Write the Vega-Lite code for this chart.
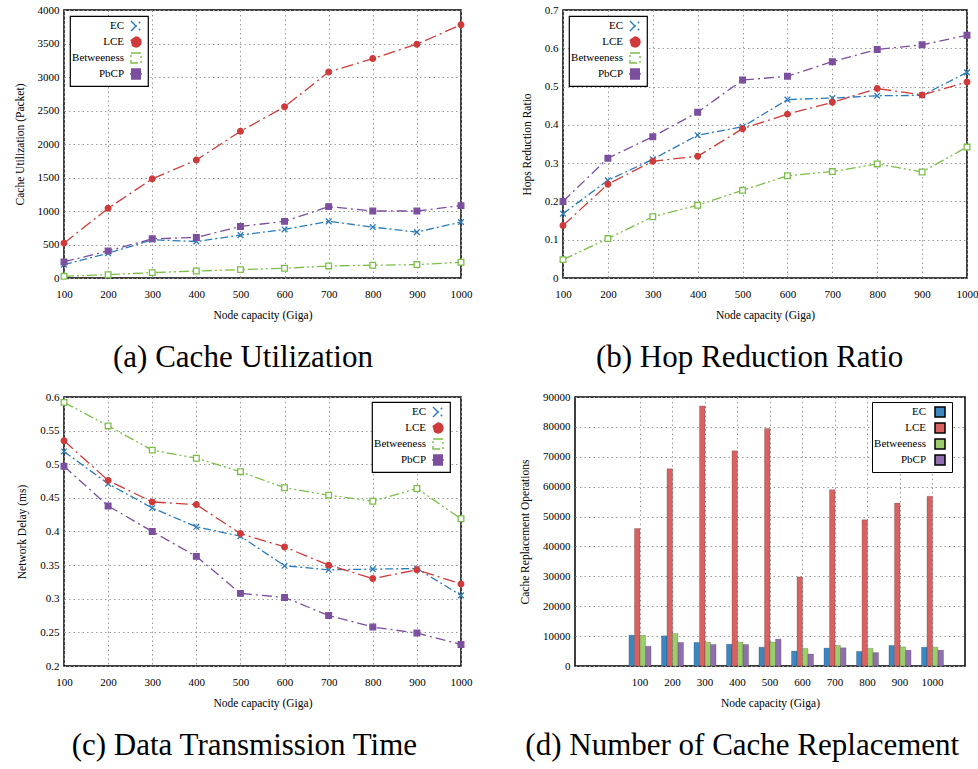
{
  "$schema": "https://vega.github.io/schema/vega-lite/v6.json",
  "background": "white",
  "padding": {"left": 13, "top": 3, "right": 0, "bottom": 0},
  "spacing": 16,
  "resolve": {"scale": {"color": "independent", "fill": "independent", "stroke": "independent", "shape": "independent", "strokeDash": "independent"}, "legend": {"color": "independent", "fill": "independent", "stroke": "independent", "shape": "independent", "strokeDash": "independent"}},
  "vconcat": [
    {
      "spacing": 47,
      "resolve": {"scale": {"color": "independent", "fill": "independent", "stroke": "independent", "shape": "independent", "strokeDash": "independent"}, "legend": {"color": "independent", "fill": "independent", "stroke": "independent", "shape": "independent", "strokeDash": "independent"}},
      "hconcat": [
        {
          "width": 397, "height": 268,
          "title": {"text": "(a) Cache Utilization"},
          "data": {"values": [
            {"c":100,"s":"EC","v":200},{"c":200,"s":"EC","v":370},{"c":300,"s":"EC","v":570},{"c":400,"s":"EC","v":545},{"c":500,"s":"EC","v":640},{"c":600,"s":"EC","v":725},{"c":700,"s":"EC","v":845},{"c":800,"s":"EC","v":760},{"c":900,"s":"EC","v":685},{"c":1000,"s":"EC","v":835},
            {"c":100,"s":"LCE","v":520},{"c":200,"s":"LCE","v":1040},{"c":300,"s":"LCE","v":1480},{"c":400,"s":"LCE","v":1760},{"c":500,"s":"LCE","v":2190},{"c":600,"s":"LCE","v":2555},{"c":700,"s":"LCE","v":3075},{"c":800,"s":"LCE","v":3275},{"c":900,"s":"LCE","v":3490},{"c":1000,"s":"LCE","v":3780},
            {"c":100,"s":"Betweeness","v":25},{"c":200,"s":"Betweeness","v":50},{"c":300,"s":"Betweeness","v":80},{"c":400,"s":"Betweeness","v":105},{"c":500,"s":"Betweeness","v":125},{"c":600,"s":"Betweeness","v":145},{"c":700,"s":"Betweeness","v":180},{"c":800,"s":"Betweeness","v":190},{"c":900,"s":"Betweeness","v":200},{"c":1000,"s":"Betweeness","v":235},
            {"c":100,"s":"PbCP","v":240},{"c":200,"s":"PbCP","v":405},{"c":300,"s":"PbCP","v":585},{"c":400,"s":"PbCP","v":605},{"c":500,"s":"PbCP","v":770},{"c":600,"s":"PbCP","v":845},{"c":700,"s":"PbCP","v":1065},{"c":800,"s":"PbCP","v":1000},{"c":900,"s":"PbCP","v":1000},{"c":1000,"s":"PbCP","v":1080}
          ]},
          "encoding": {
            "x": {"field": "c", "type": "quantitative", "scale": {"domain": [100, 1000], "nice": false, "zero": false}, "axis": {"values": [100,200,300,400,500,600,700,800,900,1000], "format": "d", "title": "Node capacity (Giga)", "labelFlush": false, "labelOverlap": false}},
            "y": {"field": "v", "type": "quantitative", "scale": {"domain": [0, 4000], "nice": false}, "axis": {"values": [0,500,1000,1500,2000,2500,3000,3500,4000], "format": "d", "title": "Cache Utilization (Packet)"}},
            "stroke": {"field": "s", "type": "nominal", "scale": {"domain": ["EC","LCE","Betweeness","PbCP"], "range": ["#2b7bba","#cf3a3a","#7dbd4a","#7c4f9e"]},
              "legend": {"title": null, "orient": "top-left", "offset": 6, "strokeColor": "black", "fillColor": "white", "padding": 4, "labelFont": "Liberation Serif", "labelFontSize": 11, "labelColor": "black", "labelAlign": "right", "labelOffset": -18, "symbolOffset": 56, "symbolSize": 100, "symbolStrokeWidth": 1.4, "rowPadding": 0,
                "encode": {"legend": {"update": {"strokeWidth": {"value": 1.2}}}, "symbols": {"update": {
                  "shape": {"signal": "datum.value==='EC' ? 'M-2,0H-0.6M-0.55,-0.55L0.55,0.55M-0.55,0.55L0.55,-0.55M1,0H1.6' : datum.value==='LCE' ? 'M-2,0H-0.6M0.55,0A0.55,0.55,0,1,1,-0.55,0A0.55,0.55,0,1,1,0.55,0ZM1,0H1.6' : datum.value==='Betweeness' ? 'M-2,0H-0.6M-0.55,-0.55H0.55V0.55H-0.55ZM1,0H1.6' : 'M-2,0H-0.6M-0.5,-0.5H0.5V0.5H-0.5ZM1,0H1.6'"},
                  "fill": {"signal": "datum.value==='LCE' ? '#cf3a3a' : datum.value==='PbCP' ? '#7c4f9e' : datum.value==='Betweeness' ? 'white' : 'transparent'"},
                  "strokeDash": {"value": []}}}}}}
          },
          "layer": [
            {"mark": {"type": "line", "strokeWidth": 1.3}, "encoding": {"strokeDash": {"field": "s", "type": "nominal", "scale": {"domain": ["EC","LCE","Betweeness","PbCP"], "range": [[8,3,2,3],[12,4,2,4],[10,3,2,3,2,3],[10,4,2,4]]}, "legend": null}}},
            {"mark": {"type": "point", "filled": false, "strokeWidth": 1.3, "size": 32, "opacity": 1}, "encoding": {
              "shape": {"field": "s", "type": "nominal", "scale": {"domain": ["EC","LCE","Betweeness","PbCP"], "range": ["M-1,-1L1,1M-1,1L1,-1","circle","square","square"]}, "legend": null},
              "fill": {"field": "s", "type": "nominal", "scale": {"domain": ["EC","LCE","Betweeness","PbCP"], "range": ["transparent","#cf3a3a","white","#7c4f9e"]}, "legend": null}}}
          ]
        },
        {
          "width": 404, "height": 268,
          "title": {"text": "(b) Hop Reduction Ratio"},
          "data": {"values": [
            {"c":100,"s":"EC","v":0.168},{"c":200,"s":"EC","v":0.255},{"c":300,"s":"EC","v":0.31},{"c":400,"s":"EC","v":0.373},{"c":500,"s":"EC","v":0.395},{"c":600,"s":"EC","v":0.466},{"c":700,"s":"EC","v":0.47},{"c":800,"s":"EC","v":0.476},{"c":900,"s":"EC","v":0.477},{"c":1000,"s":"EC","v":0.537},
            {"c":100,"s":"LCE","v":0.137},{"c":200,"s":"LCE","v":0.245},{"c":300,"s":"LCE","v":0.305},{"c":400,"s":"LCE","v":0.318},{"c":500,"s":"LCE","v":0.39},{"c":600,"s":"LCE","v":0.428},{"c":700,"s":"LCE","v":0.459},{"c":800,"s":"LCE","v":0.495},{"c":900,"s":"LCE","v":0.478},{"c":1000,"s":"LCE","v":0.512},
            {"c":100,"s":"Betweeness","v":0.048},{"c":200,"s":"Betweeness","v":0.103},{"c":300,"s":"Betweeness","v":0.16},{"c":400,"s":"Betweeness","v":0.19},{"c":500,"s":"Betweeness","v":0.229},{"c":600,"s":"Betweeness","v":0.267},{"c":700,"s":"Betweeness","v":0.278},{"c":800,"s":"Betweeness","v":0.298},{"c":900,"s":"Betweeness","v":0.277},{"c":1000,"s":"Betweeness","v":0.342},
            {"c":100,"s":"PbCP","v":0.2},{"c":200,"s":"PbCP","v":0.313},{"c":300,"s":"PbCP","v":0.369},{"c":400,"s":"PbCP","v":0.433},{"c":500,"s":"PbCP","v":0.517},{"c":600,"s":"PbCP","v":0.527},{"c":700,"s":"PbCP","v":0.565},{"c":800,"s":"PbCP","v":0.597},{"c":900,"s":"PbCP","v":0.609},{"c":1000,"s":"PbCP","v":0.634}
          ]},
          "encoding": {
            "x": {"field": "c", "type": "quantitative", "scale": {"domain": [100, 1000], "nice": false, "zero": false}, "axis": {"values": [100,200,300,400,500,600,700,800,900,1000], "format": "d", "title": "Node capacity (Giga)", "labelFlush": false, "labelOverlap": false}},
            "y": {"field": "v", "type": "quantitative", "scale": {"domain": [0, 0.7], "nice": false}, "axis": {"values": [0,0.1,0.2,0.3,0.4,0.5,0.6,0.7], "format": ".2~f", "title": "Hops Reduction Ratio"}},
            "stroke": {"field": "s", "type": "nominal", "scale": {"domain": ["EC","LCE","Betweeness","PbCP"], "range": ["#2b7bba","#cf3a3a","#7dbd4a","#7c4f9e"]},
              "legend": {"title": null, "orient": "top-left", "offset": 6, "strokeColor": "black", "fillColor": "white", "padding": 4, "labelFont": "Liberation Serif", "labelFontSize": 11, "labelColor": "black", "labelAlign": "right", "labelOffset": -18, "symbolOffset": 56, "symbolSize": 100, "symbolStrokeWidth": 1.4, "rowPadding": 0,
                "encode": {"legend": {"update": {"strokeWidth": {"value": 1.2}}}, "symbols": {"update": {
                  "shape": {"signal": "datum.value==='EC' ? 'M-2,0H-0.6M-0.55,-0.55L0.55,0.55M-0.55,0.55L0.55,-0.55M1,0H1.6' : datum.value==='LCE' ? 'M-2,0H-0.6M0.55,0A0.55,0.55,0,1,1,-0.55,0A0.55,0.55,0,1,1,0.55,0ZM1,0H1.6' : datum.value==='Betweeness' ? 'M-2,0H-0.6M-0.55,-0.55H0.55V0.55H-0.55ZM1,0H1.6' : 'M-2,0H-0.6M-0.5,-0.5H0.5V0.5H-0.5ZM1,0H1.6'"},
                  "fill": {"signal": "datum.value==='LCE' ? '#cf3a3a' : datum.value==='PbCP' ? '#7c4f9e' : datum.value==='Betweeness' ? 'white' : 'transparent'"},
                  "strokeDash": {"value": []}}}}}}
          },
          "layer": [
            {"mark": {"type": "line", "strokeWidth": 1.3}, "encoding": {"strokeDash": {"field": "s", "type": "nominal", "scale": {"domain": ["EC","LCE","Betweeness","PbCP"], "range": [[8,3,2,3],[12,4,2,4],[10,3,2,3,2,3],[10,4,2,4]]}, "legend": null}}},
            {"mark": {"type": "point", "filled": false, "strokeWidth": 1.3, "size": 32, "opacity": 1}, "encoding": {
              "shape": {"field": "s", "type": "nominal", "scale": {"domain": ["EC","LCE","Betweeness","PbCP"], "range": ["M-1,-1L1,1M-1,1L1,-1","circle","square","square"]}, "legend": null},
              "fill": {"field": "s", "type": "nominal", "scale": {"domain": ["EC","LCE","Betweeness","PbCP"], "range": ["transparent","#cf3a3a","white","#7c4f9e"]}, "legend": null}}}
          ]
        }
      ]
    },
    {
      "spacing": 45,
      "resolve": {"scale": {"color": "independent", "fill": "independent", "stroke": "independent", "shape": "independent", "strokeDash": "independent"}, "legend": {"color": "independent", "fill": "independent", "stroke": "independent", "shape": "independent", "strokeDash": "independent"}},
      "hconcat": [
        {
          "width": 397, "height": 269,
          "title": {"text": "(c) Data Transmission Time"},
          "data": {"values": [
            {"c":100,"s":"EC","v":0.519},{"c":200,"s":"EC","v":0.471},{"c":300,"s":"EC","v":0.435},{"c":400,"s":"EC","v":0.407},{"c":500,"s":"EC","v":0.393},{"c":600,"s":"EC","v":0.349},{"c":700,"s":"EC","v":0.343},{"c":800,"s":"EC","v":0.344},{"c":900,"s":"EC","v":0.345},{"c":1000,"s":"EC","v":0.305},
            {"c":100,"s":"LCE","v":0.535},{"c":200,"s":"LCE","v":0.476},{"c":300,"s":"LCE","v":0.444},{"c":400,"s":"LCE","v":0.44},{"c":500,"s":"LCE","v":0.397},{"c":600,"s":"LCE","v":0.377},{"c":700,"s":"LCE","v":0.35},{"c":800,"s":"LCE","v":0.33},{"c":900,"s":"LCE","v":0.343},{"c":1000,"s":"LCE","v":0.322},
            {"c":100,"s":"Betweeness","v":0.592},{"c":200,"s":"Betweeness","v":0.557},{"c":300,"s":"Betweeness","v":0.521},{"c":400,"s":"Betweeness","v":0.509},{"c":500,"s":"Betweeness","v":0.489},{"c":600,"s":"Betweeness","v":0.465},{"c":700,"s":"Betweeness","v":0.454},{"c":800,"s":"Betweeness","v":0.445},{"c":900,"s":"Betweeness","v":0.464},{"c":1000,"s":"Betweeness","v":0.419},
            {"c":100,"s":"PbCP","v":0.497},{"c":200,"s":"PbCP","v":0.438},{"c":300,"s":"PbCP","v":0.4},{"c":400,"s":"PbCP","v":0.363},{"c":500,"s":"PbCP","v":0.308},{"c":600,"s":"PbCP","v":0.302},{"c":700,"s":"PbCP","v":0.275},{"c":800,"s":"PbCP","v":0.258},{"c":900,"s":"PbCP","v":0.249},{"c":1000,"s":"PbCP","v":0.232}
          ]},
          "encoding": {
            "x": {"field": "c", "type": "quantitative", "scale": {"domain": [100, 1000], "nice": false, "zero": false}, "axis": {"values": [100,200,300,400,500,600,700,800,900,1000], "format": "d", "title": "Node capacity (Giga)", "labelFlush": false, "labelOverlap": false}},
            "y": {"field": "v", "type": "quantitative", "scale": {"domain": [0.2, 0.6], "nice": false, "zero": false}, "axis": {"values": [0.2,0.25,0.3,0.35,0.4,0.45,0.5,0.55,0.6], "format": ".2~f", "title": "Network Delay (ms)"}},
            "stroke": {"field": "s", "type": "nominal", "scale": {"domain": ["EC","LCE","Betweeness","PbCP"], "range": ["#2b7bba","#cf3a3a","#7dbd4a","#7c4f9e"]},
              "legend": {"title": null, "orient": "none", "legendX": 308, "legendY": 5, "strokeColor": "black", "fillColor": "white", "padding": 4, "labelFont": "Liberation Serif", "labelFontSize": 11, "labelColor": "black", "labelAlign": "right", "labelOffset": -18, "symbolOffset": 56, "symbolSize": 100, "symbolStrokeWidth": 1.4, "rowPadding": 0,
                "encode": {"legend": {"update": {"strokeWidth": {"value": 1.2}}}, "symbols": {"update": {
                  "shape": {"signal": "datum.value==='EC' ? 'M-2,0H-0.6M-0.55,-0.55L0.55,0.55M-0.55,0.55L0.55,-0.55M1,0H1.6' : datum.value==='LCE' ? 'M-2,0H-0.6M0.55,0A0.55,0.55,0,1,1,-0.55,0A0.55,0.55,0,1,1,0.55,0ZM1,0H1.6' : datum.value==='Betweeness' ? 'M-2,0H-0.6M-0.55,-0.55H0.55V0.55H-0.55ZM1,0H1.6' : 'M-2,0H-0.6M-0.5,-0.5H0.5V0.5H-0.5ZM1,0H1.6'"},
                  "fill": {"signal": "datum.value==='LCE' ? '#cf3a3a' : datum.value==='PbCP' ? '#7c4f9e' : datum.value==='Betweeness' ? 'white' : 'transparent'"},
                  "strokeDash": {"value": []}}}}}}
          },
          "layer": [
            {"mark": {"type": "line", "strokeWidth": 1.3}, "encoding": {"strokeDash": {"field": "s", "type": "nominal", "scale": {"domain": ["EC","LCE","Betweeness","PbCP"], "range": [[8,3,2,3],[12,4,2,4],[10,3,2,3,2,3],[10,4,2,4]]}, "legend": null}}},
            {"mark": {"type": "point", "filled": false, "strokeWidth": 1.3, "size": 32, "opacity": 1}, "encoding": {
              "shape": {"field": "s", "type": "nominal", "scale": {"domain": ["EC","LCE","Betweeness","PbCP"], "range": ["M-1,-1L1,1M-1,1L1,-1","circle","square","square"]}, "legend": null},
              "fill": {"field": "s", "type": "nominal", "scale": {"domain": ["EC","LCE","Betweeness","PbCP"], "range": ["transparent","#cf3a3a","white","#7c4f9e"]}, "legend": null}}}
          ]
        },
        {
          "width": 390, "height": 269,
          "title": {"text": "(d) Number of Cache Replacement"},
          "data": {"values": [
            {"c":100,"s":"EC","v":10300},{"c":200,"s":"EC","v":10100},{"c":300,"s":"EC","v":7900},{"c":400,"s":"EC","v":7300},{"c":500,"s":"EC","v":6300},{"c":600,"s":"EC","v":5000},{"c":700,"s":"EC","v":6000},{"c":800,"s":"EC","v":4900},{"c":900,"s":"EC","v":6900},{"c":1000,"s":"EC","v":6300},
            {"c":100,"s":"LCE","v":46000},{"c":200,"s":"LCE","v":66000},{"c":300,"s":"LCE","v":87000},{"c":400,"s":"LCE","v":72000},{"c":500,"s":"LCE","v":79500},{"c":600,"s":"LCE","v":29800},{"c":700,"s":"LCE","v":59000},{"c":800,"s":"LCE","v":48900},{"c":900,"s":"LCE","v":54500},{"c":1000,"s":"LCE","v":56800},
            {"c":100,"s":"Betweeness","v":10300},{"c":200,"s":"Betweeness","v":10900},{"c":300,"s":"Betweeness","v":8000},{"c":400,"s":"Betweeness","v":8000},{"c":500,"s":"Betweeness","v":8000},{"c":600,"s":"Betweeness","v":5900},{"c":700,"s":"Betweeness","v":6900},{"c":800,"s":"Betweeness","v":5900},{"c":900,"s":"Betweeness","v":6400},{"c":1000,"s":"Betweeness","v":6300},
            {"c":100,"s":"PbCP","v":6600},{"c":200,"s":"PbCP","v":7900},{"c":300,"s":"PbCP","v":7200},{"c":400,"s":"PbCP","v":7200},{"c":500,"s":"PbCP","v":9000},{"c":600,"s":"PbCP","v":4000},{"c":700,"s":"PbCP","v":6100},{"c":800,"s":"PbCP","v":4500},{"c":900,"s":"PbCP","v":5300},{"c":1000,"s":"PbCP","v":5300}
          ]},
          "mark": {"type": "bar", "stroke": "black", "strokeOpacity": 0.22, "strokeWidth": 0.8},
          "encoding": {
            "x": {"field": "c", "type": "ordinal", "scale": {"domain": [0,100,200,300,400,500,600,700,800,900,1000], "paddingInner": 0.32, "paddingOuter": 0.66}, "axis": {"values": [100,200,300,400,500,600,700,800,900,1000], "labelAngle": 0, "title": "Node capacity (Giga)"}},
            "xOffset": {"field": "s", "type": "nominal", "scale": {"domain": ["EC","LCE","Betweeness","PbCP"], "paddingInner": 0, "paddingOuter": 0}},
            "y": {"field": "v", "type": "quantitative", "scale": {"domain": [0, 90000], "nice": false}, "axis": {"values": [0,10000,20000,30000,40000,50000,60000,70000,80000,90000], "format": "d", "title": "Cache Replacement Operations"}},
            "color": {"field": "s", "type": "nominal", "scale": {"domain": ["EC","LCE","Betweeness","PbCP"], "range": ["#3d87c0","#d86262","#9ccd6b","#8f6fae"]},
              "legend": {"title": null, "orient": "none", "legendX": 297, "legendY": 5, "strokeColor": "black", "fillColor": "white", "padding": 4, "labelFont": "Liberation Serif", "labelFontSize": 11, "labelColor": "black", "labelAlign": "right", "labelOffset": -20, "symbolOffset": 58, "symbolSize": 100, "rowPadding": 0,
                "encode": {"legend": {"update": {"strokeWidth": {"value": 1.2}}}, "symbols": {"update": {
                  "shape": {"value": "M-2.4,-0.6H2.4V0.6H-2.4Z"},
                  "stroke": {"signal": "datum.value==='EC' ? '#2a6aa3' : datum.value==='LCE' ? '#c04a4a' : datum.value==='Betweeness' ? '#86b85a' : '#76579a'"},
                  "strokeWidth": {"value": 1}, "opacity": {"value": 1}}}}}}
          }
        }
      ]
    }
  ],
  "config": {
    "font": "Liberation Serif",
    "view": {"stroke": "black", "strokeWidth": 1.5},
    "axis": {"labelFont": "Liberation Serif", "labelFontSize": 11, "labelColor": "black", "titleFont": "Liberation Serif", "titleFontSize": 11.5, "titleFontWeight": "normal", "titleColor": "black", "grid": true, "gridColor": "#9a9a9a", "gridDash": [1.5, 3], "gridWidth": 1, "domain": false, "ticks": false, "labelPadding": 5},
    "axisX": {"labelPadding": 10, "titlePadding": 10},
    "axisY": {"titlePadding": 12},
    "title": {"orient": "bottom", "frame": "bounds", "anchor": "middle", "offset": 22, "font": "Liberation Serif", "fontSize": 31, "fontWeight": "normal", "color": "black"}
  }
}
